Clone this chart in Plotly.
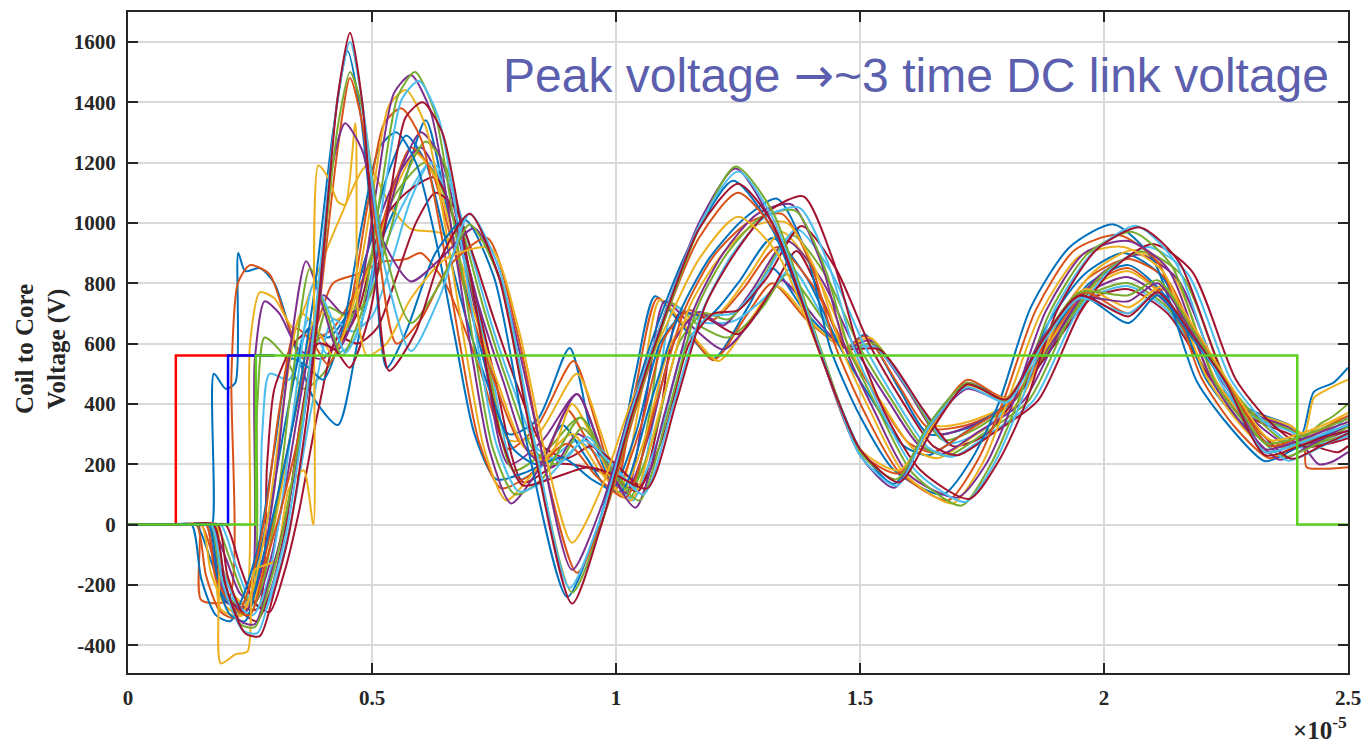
import plotly.graph_objects as go

# ---------------- data (time in units of 1e-5 s, voltage in V) ----------------
# Family A: big first peak near 0.455
a_blue_t = [0, 0.12, 0.165, 0.185, 0.21, 0.24, 0.27, 0.30, 0.34, 0.38, 0.42, 0.45, 0.475, 0.50, 0.53, 0.57, 0.63, 0.69, 0.75, 0.82, 0.90, 0.96, 1.02, 1.08, 1.15, 1.24, 1.32, 1.42, 1.50, 1.57, 1.64, 1.72, 1.80, 1.87, 1.95, 2.05, 2.11, 2.18, 2.25, 2.33, 2.40, 2.45, 2.50]
a_blue_v = [0, 0, 0, -200, -300, -320, -150, 50, 350, 750, 1300, 1570, 1380, 1000, 520, 640, 900, 1010, 820, 250, -240, -20, 330, 640, 920, 1140, 980, 560, 250, 135, 330, 470, 420, 600, 760, 668, 760, 620, 460, 240, 270, 300, 330]
a_orange_t = [0, 0.12, 0.16, 0.18, 0.22, 0.25, 0.28, 0.31, 0.35, 0.39, 0.43, 0.455, 0.48, 0.51, 0.55, 0.60, 0.66, 0.736, 0.80, 0.86, 0.92, 0.98, 1.04, 1.10, 1.17, 1.25, 1.33, 1.42, 1.50, 1.58, 1.65, 1.72, 1.80, 1.88, 1.96, 2.05, 2.12, 2.19, 2.26, 2.34, 2.40, 2.45, 2.50]
a_orange_v = [0, 0, 0, -180, -280, -300, -140, 30, 300, 700, 1250, 1480, 1330, 950, 600, 680, 860, 950, 620, 150, -160, 50, 380, 680, 950, 1100, 960, 560, 240, 170, 340, 480, 420, 620, 770, 700, 780, 630, 450, 260, 290, 320, 360]
a_yellow_t = [0, 0.14, 0.18, 0.19, 0.22, 0.245, 0.26, 0.30, 0.33, 0.36, 0.38, 0.39, 0.41, 0.43, 0.445, 0.466, 0.472, 0.49, 0.53, 0.58, 0.65, 0.743, 0.80, 0.86, 0.91, 0.97, 1.03, 1.10, 1.17, 1.25, 1.33, 1.42, 1.50, 1.58, 1.65, 1.72, 1.80, 1.88, 1.96, 2.05, 2.12, 2.19, 2.26, 2.34, 2.40, 2.45, 2.50]
a_yellow_v = [0, 0, 0, -460, -430, -420, -150, -120, 120, 180, 0, 1190, 1150, 1070, 1060, 1330, 680, 560, 600, 750, 880, 916, 650, 200, -60, 120, 400, 650, 880, 1020, 900, 560, 250, 180, 330, 460, 420, 620, 780, 720, 790, 640, 460, 280, 300, 330, 370]
a_purple_t = [0, 0.12, 0.17, 0.19, 0.23, 0.26, 0.29, 0.32, 0.35, 0.39, 0.42, 0.445, 0.48, 0.52, 0.58, 0.64, 0.71, 0.77, 0.84, 0.91, 0.97, 1.03, 1.10, 1.17, 1.245, 1.32, 1.42, 1.50, 1.57, 1.64, 1.72, 1.80, 1.87, 1.95, 2.05, 2.11, 2.18, 2.25, 2.33, 2.40, 2.45, 2.50]
a_purple_v = [0, 0, 0, -150, -320, -330, -180, 0, 250, 700, 1200, 1330, 1240, 950, 806, 880, 982, 780, 300, -150, 60, 380, 700, 1000, 1180, 1000, 560, 230, 122, 320, 450, 410, 610, 750, 740, 800, 640, 470, 250, 280, 310, 340]
a_green_t = [0, 0.12, 0.17, 0.19, 0.23, 0.26, 0.29, 0.32, 0.36, 0.40, 0.43, 0.455, 0.48, 0.52, 0.58, 0.64, 0.70, 0.76, 0.83, 0.91, 0.97, 1.03, 1.10, 1.17, 1.245, 1.32, 1.42, 1.50, 1.575, 1.64, 1.72, 1.80, 1.87, 1.95, 2.05, 2.11, 2.18, 2.25, 2.33, 2.40, 2.45, 2.50]
a_green_v = [0, 0, 0, -170, -330, -340, -200, 0, 380, 900, 1320, 1500, 1380, 950, 668, 800, 995, 820, 280, -225, 0, 340, 680, 980, 1187, 1040, 580, 240, 150, 330, 470, 410, 600, 770, 760, 810, 650, 470, 270, 290, 320, 350]
a_cyan_t = [0, 0.12, 0.17, 0.195, 0.235, 0.265, 0.295, 0.325, 0.36, 0.40, 0.43, 0.455, 0.48, 0.52, 0.58, 0.64, 0.70, 0.76, 0.83, 0.905, 0.97, 1.03, 1.10, 1.17, 1.25, 1.32, 1.42, 1.50, 1.575, 1.64, 1.72, 1.80, 1.87, 1.95, 2.05, 2.11, 2.18, 2.25, 2.33, 2.40, 2.45, 2.50]
a_cyan_v = [0, 0, 0, -200, -350, -360, -210, -20, 350, 950, 1420, 1600, 1400, 900, 575, 760, 1030, 850, 300, -210, 30, 370, 700, 990, 1170, 1020, 570, 230, 128, 320, 455, 405, 590, 750, 700, 770, 630, 460, 240, 270, 300, 330]
a_dred_t = [0, 0.12, 0.175, 0.2, 0.24, 0.27, 0.30, 0.33, 0.37, 0.40, 0.43, 0.455, 0.48, 0.505, 0.535, 0.59, 0.64, 0.70, 0.76, 0.83, 0.91, 0.97, 1.03, 1.10, 1.17, 1.25, 1.32, 1.42, 1.50, 1.58, 1.65, 1.72, 1.80, 1.87, 1.95, 2.05, 2.11, 2.18, 2.25, 2.33, 2.40, 2.45, 2.50]
a_dred_v = [0, 0, 0, -200, -360, -370, -220, -30, 400, 900, 1420, 1630, 1400, 900, 510, 640, 880, 1030, 820, 260, -262, 0, 350, 690, 980, 1130, 1000, 560, 250, 140, 320, 465, 415, 600, 760, 690, 770, 630, 470, 230, 260, 290, 310]

# Family B: peak near 0.58, shared time base plus a lag read for each curve
b_t = [0, 0.12, 0.16, 0.18, 0.21, 0.24, 0.27, 0.30, 0.33, 0.365, 0.40, 0.43, 0.47, 0.51, 0.545, 0.58, 0.62, 0.66, 0.70, 0.74, 0.785, 0.84, 0.92, 0.98, 1.04, 1.10, 1.16, 1.22, 1.29, 1.36, 1.42, 1.47, 1.53, 1.60, 1.70, 1.76, 1.815, 1.88, 1.96, 2.05, 2.13, 2.22, 2.29, 2.36, 2.42, 2.50]
b_lag = [-0.03, -0.02, -0.01, 0.0, 0.008, 0.016, 0.024]
b_blue_v = [0, 0, 0, -180, -300, -320, -220, -50, 250, 550, 520, 480, 650, 1000, 1250, 1300, 1200, 950, 620, 300, 150, 170, 222, 150, 110, 400, 700, 880, 1010, 1080, 900, 580, 360, 180, 100, 220, 405, 720, 920, 995, 880, 475, 320, 210, 250, 310]
b_orange_v = [0, 0, 0, -170, -290, -310, -200, 20, 380, 650, 600, 530, 680, 1050, 1330, 1380, 1280, 980, 600, 270, 120, 160, 268, 160, 90, 390, 710, 890, 1000, 1030, 860, 590, 370, 175, 80, 210, 415, 710, 910, 960, 870, 485, 320, 220, 270, 340]
b_yellow_v = [0, 0, 0, -160, -270, -300, -190, 60, 420, 700, 640, 560, 720, 1080, 1390, 1440, 1320, 990, 600, 250, 80, 170, 300, 170, 80, 380, 720, 880, 990, 1000, 840, 595, 380, 170, 70, 200, 420, 700, 890, 920, 840, 490, 330, 230, 280, 360]
b_purple_v = [0, 0, 0, -150, -260, -290, -170, 120, 550, 873, 720, 580, 720, 1120, 1430, 1490, 1370, 1010, 610, 250, 70, 180, 433, 200, 56, 370, 715, 900, 1030, 1061, 870, 585, 375, 165, 90, 205, 410, 705, 900, 940, 850, 480, 320, 215, 260, 330]
b_green_v = [0, 0, 0, -150, -280, -300, -180, 100, 500, 850, 700, 560, 700, 1100, 1420, 1500, 1370, 1000, 600, 250, 100, 150, 355, 180, 80, 380, 725, 900, 1020, 1040, 850, 580, 380, 170, 63, 200, 405, 700, 900, 970, 860, 470, 320, 225, 260, 330]
b_cyan_v = [0, 0, 0, -160, -270, -300, -190, 80, 460, 800, 690, 570, 710, 1110, 1410, 1470, 1350, 1000, 600, 260, 110, 150, 278, 190, 100, 390, 705, 890, 1020, 1050, 860, 590, 370, 175, 75, 205, 412, 705, 900, 990, 870, 478, 320, 212, 250, 320]
b_dred_v = [0, 0, 0, -170, -290, -320, -210, 0, 350, 600, 580, 520, 690, 1060, 1350, 1400, 1300, 980, 620, 290, 130, 150, 190, 160, 120, 410, 730, 900, 1040, 1088, 880, 600, 360, 180, 85, 210, 400, 710, 910, 985, 870, 495, 320, 218, 260, 320]

# Family D: intermediate turns, shared time base plus a lag read for each curve
d_t = [0, 0.12, 0.15, 0.18, 0.21, 0.24, 0.27, 0.30, 0.34, 0.38, 0.42, 0.46, 0.50, 0.54, 0.58, 0.62, 0.66, 0.70, 0.75, 0.80, 0.85, 0.90, 0.95, 1.00, 1.05, 1.10, 1.15, 1.20, 1.26, 1.33, 1.40, 1.47, 1.54, 1.60, 1.65, 1.72, 1.815, 1.90, 1.97, 2.05, 2.13, 2.22, 2.29, 2.36, 2.43, 2.50]
d_lag = [-0.01, 0.0, 0.01, 0.02, 0.03, 0.04, 0.05]
d_blue_v = [0, 0, 0, -120, -250, -280, -150, 50, 400, 650, 620, 700, 900, 1150, 1290, 1200, 950, 700, 450, 250, 200, 330, 220, 110, 300, 600, 700, 690, 800, 950, 820, 585, 400, 260, 230, 300, 410, 680, 830, 900, 820, 480, 340, 260, 280, 320]
d_orange_v = [0, 0, 0, -140, -260, -290, -170, 30, 350, 600, 650, 750, 880, 1100, 1250, 1180, 960, 720, 480, 280, 220, 380, 250, 120, 320, 620, 710, 680, 780, 920, 800, 590, 410, 270, 240, 310, 415, 670, 820, 880, 810, 485, 345, 265, 285, 330]
d_yellow_v = [0, 0, 0, -130, -240, -270, -140, 80, 450, 700, 680, 760, 920, 1120, 1230, 1150, 930, 700, 460, 260, 210, 400, 260, 100, 290, 590, 700, 700, 820, 970, 830, 580, 390, 250, 220, 290, 405, 690, 840, 910, 830, 475, 335, 255, 290, 340]
d_purple_v = [0, 0, 0, -110, -230, -260, -130, 100, 480, 760, 700, 720, 950, 1180, 1300, 1220, 970, 720, 470, 240, 190, 300, 230, 105, 310, 610, 705, 660, 780, 940, 815, 585, 405, 265, 235, 305, 410, 675, 825, 895, 815, 480, 340, 262, 282, 325]
d_green_v = [0, 0, 0, -120, -240, -270, -140, 90, 460, 720, 690, 740, 930, 1160, 1270, 1190, 950, 710, 460, 250, 200, 320, 225, 115, 305, 605, 700, 680, 790, 960, 825, 585, 400, 258, 228, 298, 410, 685, 835, 905, 825, 480, 342, 258, 280, 320]
d_cyan_v = [0, 0, 0, -130, -250, -280, -150, 60, 420, 680, 640, 690, 870, 1080, 1200, 1130, 920, 690, 450, 250, 210, 290, 210, 120, 300, 590, 690, 700, 810, 980, 840, 590, 395, 255, 225, 295, 410, 690, 840, 920, 835, 480, 338, 255, 278, 318]
d_dred_v = [0, 0, 0, -140, -260, -290, -160, 40, 380, 620, 600, 650, 820, 1000, 1100, 1050, 880, 680, 450, 260, 220, 260, 200, 130, 310, 600, 700, 710, 820, 990, 850, 595, 400, 260, 230, 300, 412, 700, 850, 930, 840, 482, 340, 258, 276, 316]

# Family C: early-rising turns
c_blue_t = [0, 0.12, 0.16, 0.172, 0.176, 0.20, 0.22, 0.226, 0.24, 0.27, 0.30, 0.34, 0.38, 0.43, 0.47, 0.51, 0.56, 0.61, 0.66, 0.72, 0.78, 0.84, 0.905, 0.95, 0.99, 1.04, 1.08, 1.14, 1.20, 1.27, 1.32, 1.39, 1.47, 1.51, 1.58, 1.64, 1.72, 1.815, 1.90, 1.97, 2.05, 2.13, 2.22, 2.30, 2.38, 2.405, 2.43, 2.47, 2.50]
c_blue_v = [0, 0, 0, 0, 500, 450, 470, 900, 840, 850, 800, 600, 420, 330, 600, 900, 1100, 1340, 1000, 600, 300, 350, 585, 300, 150, 500, 757, 650, 550, 720, 850, 700, 585, 630, 450, 300, 320, 410, 650, 800, 860, 750, 480, 380, 330, 300, 440, 470, 520]
c_orange_t = [0, 0.10, 0.13, 0.145, 0.150, 0.205, 0.212, 0.225, 0.25, 0.29, 0.32, 0.36, 0.42, 0.47, 0.52, 0.57, 0.60, 0.65, 0.72, 0.78, 0.84, 0.913, 0.96, 1.0, 1.04, 1.085, 1.14, 1.20, 1.27, 1.32, 1.39, 1.47, 1.51, 1.58, 1.64, 1.72, 1.815, 1.90, 1.97, 2.05, 2.13, 2.22, 2.30, 2.38, 2.41, 2.415, 2.45, 2.50]
c_orange_v = [0, 0, 0, 0, -250, -250, 500, 800, 860, 830, 700, 550, 800, 830, 870, 880, 900, 800, 520, 250, 330, 542, 330, 130, 450, 750, 660, 545, 700, 800, 680, 585, 625, 460, 320, 330, 410, 640, 790, 850, 740, 480, 370, 320, 280, 190, 185, 190]
c_yellow_t = [0, 0.12, 0.17, 0.19, 0.235, 0.25, 0.27, 0.30, 0.34, 0.38, 0.43, 0.49, 0.54, 0.58, 0.65, 0.72, 0.78, 0.84, 0.92, 0.97, 1.01, 1.05, 1.09, 1.15, 1.21, 1.28, 1.33, 1.40, 1.47, 1.52, 1.59, 1.65, 1.72, 1.815, 1.90, 1.97, 2.05, 2.13, 2.22, 2.30, 2.38, 2.41, 2.43, 2.46, 2.50]
c_yellow_v = [0, 0, 0, -280, -300, 600, 770, 750, 650, 800, 1000, 1190, 1050, 980, 960, 700, 280, 300, 500, 300, 120, 420, 745, 640, 542, 690, 790, 670, 585, 620, 470, 330, 340, 410, 630, 780, 840, 740, 480, 375, 330, 300, 420, 450, 480]
c_purple_t = [0, 0.12, 0.17, 0.195, 0.245, 0.26, 0.28, 0.31, 0.35, 0.40, 0.45, 0.50, 0.55, 0.60, 0.66, 0.72, 0.78, 0.85, 0.92, 0.97, 1.02, 1.06, 1.10, 1.16, 1.22, 1.29, 1.34, 1.41, 1.47, 1.52, 1.60, 1.66, 1.73, 1.815, 1.90, 1.97, 2.05, 2.13, 2.22, 2.30, 2.38, 2.41, 2.44, 2.47, 2.50]
c_purple_v = [0, 0, 0, -250, -270, 550, 740, 700, 580, 550, 700, 950, 1150, 1250, 1050, 650, 200, 280, 433, 250, 100, 400, 740, 650, 580, 700, 810, 680, 585, 610, 440, 300, 330, 410, 620, 770, 820, 730, 480, 370, 320, 260, 200, 210, 240]
c_green_t = [0, 0.12, 0.17, 0.2, 0.25, 0.265, 0.28, 0.32, 0.36, 0.40, 0.45, 0.50, 0.55, 0.61, 0.67, 0.73, 0.79, 0.86, 0.926, 0.98, 1.03, 1.07, 1.11, 1.17, 1.23, 1.30, 1.35, 1.42, 1.47, 1.53, 1.61, 1.67, 1.74, 1.815, 1.90, 1.97, 2.05, 2.13, 2.22, 2.30, 2.38, 2.41, 2.44, 2.47, 2.50]
c_green_v = [0, 0, 0, -240, -260, 400, 620, 560, 450, 500, 650, 900, 1100, 1200, 1000, 600, 180, 250, 355, 220, 90, 380, 735, 660, 620, 720, 830, 690, 585, 600, 420, 280, 320, 410, 610, 760, 800, 720, 480, 365, 315, 290, 330, 360, 400]
c_cyan_t = [0, 0.12, 0.175, 0.2, 0.255, 0.275, 0.29, 0.33, 0.37, 0.41, 0.46, 0.51, 0.56, 0.62, 0.68, 0.74, 0.80, 0.87, 0.92, 0.98, 1.035, 1.08, 1.12, 1.18, 1.24, 1.31, 1.36, 1.42, 1.47, 1.53, 1.62, 1.68, 1.75, 1.815, 1.90, 1.97, 2.05, 2.13, 2.22, 2.30, 2.38, 2.42, 2.45, 2.48, 2.50]
c_cyan_v = [0, 0, 0, -230, -260, 300, 500, 480, 680, 560, 600, 850, 1050, 1200, 950, 550, 150, 220, 278, 200, 80, 370, 720, 670, 674, 760, 850, 700, 585, 590, 400, 270, 310, 410, 600, 750, 790, 710, 480, 360, 310, 280, 300, 330, 360]
c_dred_t = [0, 0.12, 0.175, 0.205, 0.265, 0.285, 0.30, 0.34, 0.38, 0.42, 0.47, 0.52, 0.57, 0.63, 0.69, 0.75, 0.81, 0.88, 0.94, 0.99, 1.045, 1.09, 1.13, 1.19, 1.25, 1.32, 1.37, 1.43, 1.47, 1.54, 1.63, 1.69, 1.76, 1.815, 1.90, 1.97, 2.05, 2.13, 2.22, 2.30, 2.38, 2.42, 2.45, 2.48, 2.50]
c_dred_v = [0, 0, 0, -250, -280, 200, 450, 600, 650, 580, 700, 1000, 1100, 1150, 900, 500, 140, 200, 190, 160, 110, 360, 700, 680, 631, 780, 907, 720, 585, 580, 380, 260, 300, 410, 600, 745, 780, 700, 480, 355, 300, 270, 250, 240, 260]

# Source / reference steps
red_step_t = [0, 0.098, 0.098, 0.30]
red_step_v = [0, 0, 560, 560]
blue_step_t = [0, 0.205, 0.205, 0.30]
blue_step_v = [0, 0, 560, 560]
green_step_t = [0, 0.262, 0.262, 2.396, 2.396, 2.5]
green_step_v = [0, 0, 560, 560, 0, 0]

x_ticks = [0, 0.5, 1, 1.5, 2, 2.5]
x_labels = ["0", "0.5", "1", "1.5", "2", "2.5"]
y_ticks = [-400, -200, 0, 200, 400, 600, 800, 1000, 1200, 1400, 1600]
y_labels = ["-400", "-200", "0", "200", "400", "600", "800", "1000", "1200", "1400", "1600"]

# ---------------- figure ----------------
COLORS = ['#0072BD', '#D95319', '#EDB120', '#7E2F8E', '#77AC30', '#4DBEEE', '#A2142F']

fam_c = [(c_blue_t, c_blue_v), (c_orange_t, c_orange_v), (c_yellow_t, c_yellow_v),
         (c_purple_t, c_purple_v), (c_green_t, c_green_v), (c_cyan_t, c_cyan_v), (c_dred_t, c_dred_v)]
fam_b_vals = [b_blue_v, b_orange_v, b_yellow_v, b_purple_v, b_green_v, b_cyan_v, b_dred_v]
fam_d_vals = [d_blue_v, d_orange_v, d_yellow_v, d_purple_v, d_green_v, d_cyan_v, d_dred_v]
fam_a = [(a_blue_t, a_blue_v), (a_orange_t, a_orange_v), (a_yellow_t, a_yellow_v),
         (a_purple_t, a_purple_v), (a_green_t, a_green_v), (a_cyan_t, a_cyan_v), (a_dred_t, a_dred_v)]

fig = go.Figure()


def add_curve(t, v, color):
    fig.add_trace(go.Scatter(x=t, y=v, mode='lines',
                             line=dict(color=color, width=2, shape='spline', smoothing=0.7),
                             hoverinfo='skip', showlegend=False))


def lagged(base, lag):
    return [base[0]] + [tt + lag for tt in base[1:]]


for i, (t, v) in enumerate(fam_c):
    add_curve(t, v, COLORS[i])
for i, v in enumerate(fam_d_vals):
    add_curve(lagged(d_t, d_lag[i]), v, COLORS[i])
for i, v in enumerate(fam_b_vals):
    add_curve(lagged(b_t, b_lag[i]), v, COLORS[i])
for i, (t, v) in enumerate(fam_a):
    add_curve(t, v, COLORS[i])

for t, v, col in [(red_step_t, red_step_v, '#FF0000'), (blue_step_t, blue_step_v, '#0000FF'),
                  (green_step_t, green_step_v, '#5CD01E')]:
    fig.add_trace(go.Scatter(x=t, y=v, mode='lines', line=dict(color=col, width=2.5),
                             hoverinfo='skip', showlegend=False))

tick_font = dict(family='Liberation Serif', size=21, color='#262626', weight='bold')
axis_common = dict(showgrid=True, gridcolor='#D9D9D9', gridwidth=1.5, zeroline=False,
                   showline=True, linecolor='#262626', linewidth=2, mirror='ticks',
                   ticks='inside', ticklen=10, tickwidth=2, tickcolor='#262626',
                   tickfont=tick_font)

fig.update_layout(
    width=1371, height=745,
    margin=dict(l=128, r=14, t=10, b=72),
    paper_bgcolor='white', plot_bgcolor='white', showlegend=False,
    xaxis=dict(range=[0, 2.5], tickvals=x_ticks, ticktext=x_labels, ticklabelstandoff=5, **axis_common),
    yaxis=dict(range=[-492, 1699], tickvals=y_ticks, ticktext=y_labels, ticklabelstandoff=6, **axis_common),
    annotations=[
        dict(text='Peak voltage <span style="font-family:DejaVu Sans">\u2192</span>~3 time DC link voltage',
             xref='paper', yref='paper',
             x=0.986, y=0.905, xanchor='right', yanchor='middle', showarrow=False,
             font=dict(family='Liberation Sans', size=48, color='#5C5FAE')),
        dict(text='Coil to Core<br>Voltage (V)', xref='paper', yref='paper',
             x=-0.0715, y=0.49, xanchor='center', yanchor='middle', textangle=-90, showarrow=False,
             font=dict(family='Liberation Serif', size=25, color='#262626', weight='bold')),
        dict(text='\u00d710<sup>-5</sup>', xref='paper', yref='paper',
             x=(1300 - 128) / 1229, y=-0.083, xanchor='left', yanchor='middle', showarrow=False,
             font=dict(family='Liberation Serif', size=25, color='#262626', weight='bold')),
    ],
)

fig.write_html('out.html')
